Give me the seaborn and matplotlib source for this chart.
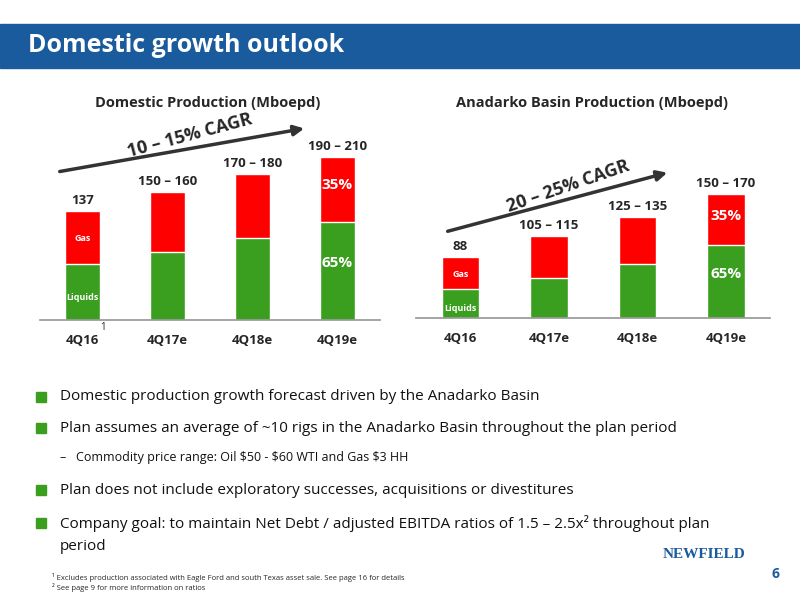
import matplotlib
matplotlib.use("Agg")
import matplotlib.pyplot as plt
import seaborn as sns
import pandas as pd
from matplotlib.patches import Rectangle

sns.set_theme(style="white")
plt.rcParams['font.family'] = ['Open Sans', 'DejaVu Sans']

quarters = ["4Q16", "4Q17e", "4Q18e", "4Q19e"]
dom_liquids = [70, 85, 103, 123]
dom_gas = [67, 75, 80, 82]
dom_labels = ["137", "150 – 160", "170 – 180", "190 – 210"]
ana_liquids = [42, 58, 78, 105]
ana_gas = [46, 60, 68, 74]
ana_labels = ["88", "105 – 115", "125 – 135", "150 – 170"]

GREEN = "#3A9E1E"
RED = "#FF0000"
BLUE = "#1A5B9E"

fig = plt.figure(figsize=(8, 6), dpi=100)
fig.patch.set_facecolor("white")
fig.add_artist(Rectangle((0, 1 - 68/600), 1, 44/600, transform=fig.transFigure,
                         color=BLUE, zorder=0))
fig.text(0.035, 1 - 46/600, "Domestic growth outlook", color="white", fontsize=18,
         fontweight="bold", va="center")

def px(x, y):
    return (x/800, 1 - y/600)

def chart(rect, liq, gas, labels, ymax, title, title_x):
    ax = fig.add_axes(rect)
    tot = [a + b for a, b in zip(liq, gas)]
    df = pd.DataFrame({"q": quarters, "tot": tot, "liq": liq})
    sns.barplot(data=df, x="q", y="tot", color=RED, width=0.42, saturation=1, ax=ax)
    sns.barplot(data=df, x="q", y="liq", color=GREEN, width=0.42, saturation=1, ax=ax)
    ax.set_ylim(0, ymax)
    ax.set_xlim(-0.5, 3.5)
    ax.set_xlabel(""); ax.set_ylabel(""); ax.set_yticks([])
    for s in ["top", "right", "left"]:
        ax.spines[s].set_visible(False)
    ax.spines["bottom"].set_color("#999999")
    ax.tick_params(axis="x", labelsize=9.5, length=4, color="#999999", direction="out", pad=6)
    for lab in ax.get_xticklabels():
        lab.set_fontweight("bold")
    for i, (t, l) in enumerate(zip(tot, labels)):
        ax.text(i, t + ymax*0.02, l, ha="center", va="bottom", fontsize=9.5, fontweight="bold")
    ax.text(0, liq[0]/2 - ymax*0.04, "Liquids", color="white", fontsize=6.5, ha="center", fontweight="bold")
    ax.text(0, liq[0] + gas[0]/2 - ymax*0.02, "Gas", color="white", fontsize=6.5, ha="center", fontweight="bold")
    ax.text(3, liq[3]/2 + ymax*0.02, "65%", color="white", fontsize=11, ha="center", fontweight="bold")
    ax.text(3, liq[3] + gas[3]/2, "35%", color="white", fontsize=11, ha="center", fontweight="bold")
    fig.text(title_x, 1 - 103/600, title, fontsize=10.5, fontweight="bold", ha="center", va="center")
    return ax

ax1 = chart([0.05, 0.467, 0.425, 0.333], dom_liquids, dom_gas, dom_labels, 251,
            "Domestic Production (Mboepd)", 0.26)
fig.text(*px(100, 333), "1", fontsize=7, ha="left", va="bottom")
ax2 = chart([0.52, 0.47, 0.443, 0.333], ana_liquids, ana_gas, ana_labels, 289,
            "Anadarko Basin Production (Mboepd)", 0.74)

arr = dict(arrowstyle="-|>", color="#333333", lw=2.5, mutation_scale=15)
fig.add_artist(matplotlib.patches.FancyArrowPatch(px(57, 172), px(307, 128),
               transform=fig.transFigure, **arr))
fig.add_artist(matplotlib.patches.FancyArrowPatch(px(445, 232), px(670, 172),
               transform=fig.transFigure, **arr))
fig.text(*px(190, 136), "10 – 15% CAGR", rotation=15, fontsize=13, fontweight="bold", ha="center", va="center")
fig.text(*px(568, 186), "20 – 25% CAGR", rotation=19, fontsize=13, fontweight="bold", ha="center", va="center")

bullets = [
    (1 - 397/600, "Domestic production growth forecast driven by the Anadarko Basin", 11, True),
    (1 - 428/600, "Plan assumes an average of ~10 rigs in the Anadarko Basin throughout the plan period", 11, True),
    (1 - 458/600, "Commodity price range: Oil $50 - $60 WTI and Gas $3 HH", 9, False),
    (1 - 490/600, "Plan does not include exploratory successes, acquisitions or divestitures", 11, True),
    (1 - 523/600, "Company goal: to maintain Net Debt / adjusted EBITDA ratios of 1.5 – 2.5x² throughout plan", 11, True),
]
for y, t, fs, sq in bullets:
    if sq:
        fig.add_artist(Rectangle((0.045, y - 0.008), 0.012, 0.016, transform=fig.transFigure, color=GREEN))
        fig.text(0.075, y, t, fontsize=fs, va="center", color="#111111")
    else:
        fig.text(0.075, y, "–   " + t, fontsize=fs, va="center", color="#111111")
fig.text(0.075, 1 - 546/600, "period", fontsize=11, va="center", color="#111111")
fig.text(0.065, 1 - 577/600, "¹ Excludes production associated with Eagle Ford and south Texas asset sale. See page 16 for details",
         fontsize=5.5, va="center")
fig.text(0.065, 1 - 588/600, "² See page 9 for more information on ratios", fontsize=5.5, va="center")
fig.text(0.88, 1 - 558/600, "NEWFIELD", fontsize=11, fontweight="bold", color=BLUE,
         ha="center", family=["Liberation Serif", "DejaVu Serif"])
fig.text(0.975, 1 - 578/600, "6", fontsize=10, fontweight="bold", color=BLUE, ha="right")

fig.savefig("out.png", dpi=100)
